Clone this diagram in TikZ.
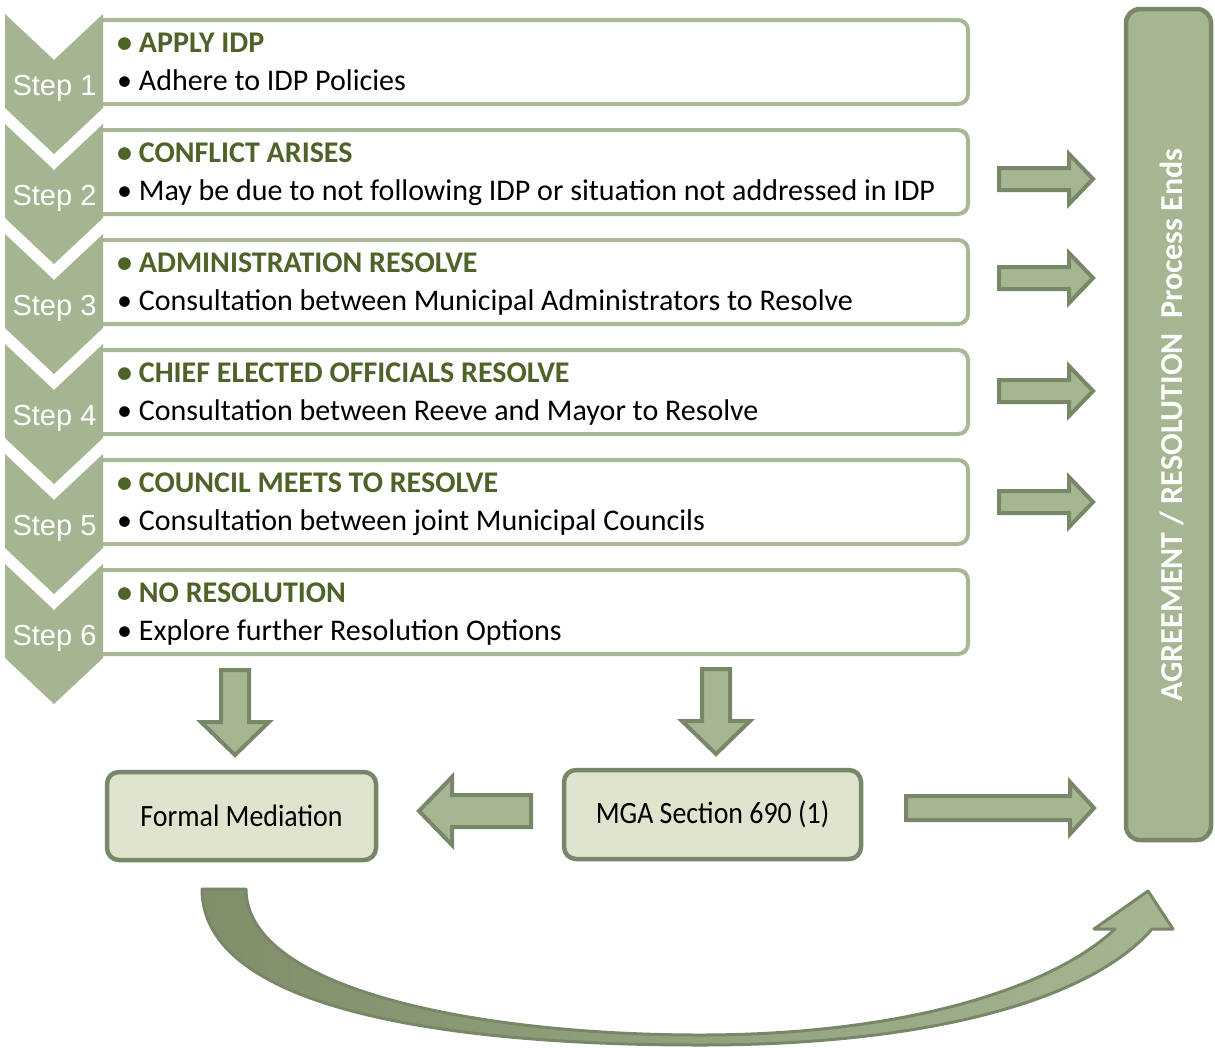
\documentclass[tikz,border=0pt]{standalone}
\usepackage{fontspec}
\setmainfont{Carlito}
\newfontfamily\arialf{Liberation Sans}
\definecolor{chev}{RGB}{165,181,146}
\definecolor{boxline}{RGB}{168,184,148}
\definecolor{arrowfill}{RGB}{166,181,146}
\definecolor{arrowdraw}{RGB}{120,135,104}
\definecolor{boldtxt}{RGB}{79,98,40}
\definecolor{lightfill}{RGB}{222,228,206}
\definecolor{curvedark}{RGB}{128,143,106}
\newcommand\fs[1]{\fontsize{#1}{#1}\selectfont}
\newcommand\harrow[6]{% x1, xhead, xtip, yc, shaft half, head half
  \draw[blk] (#1,{#4-#5}) -- (#2,{#4-#5}) -- (#2,{#4-#6}) -- (#3,#4) -- (#2,{#4+#6}) -- (#2,{#4+#5}) -- (#1,{#4+#5}) -- cycle;}
\newcommand\varrow[6]{% xc, y1, yhead, ytip, shaft half, head half
  \draw[blk] ({#1-#5},#2) -- ({#1-#5},#3) -- ({#1-#6},#3) -- (#1,#4) -- ({#1+#6},#3) -- ({#1+#5},#3) -- ({#1+#5},#2) -- cycle;}
\begin{document}
\begin{tikzpicture}[x=1pt,y=-1pt,
  steplbl/.style={font=\arialf\fs{29}, text=white, anchor=base, inner sep=0},
  hd/.style={font=\bfseries\fs{30}, text=boldtxt, anchor=base west, inner sep=0},
  bd/.style={font=\fs{30}, text=black, anchor=base west, inner sep=0},
  chevron/.style={fill=chev, draw=none},
  stepbox/.style={draw=boxline, line width=4, rounded corners=10},
  blk/.style={fill=arrowfill, draw=arrowdraw, line width=4, line join=miter},
  lbox/.style={draw=arrowdraw, fill=lightfill, line width=4.5, rounded corners=12, inner sep=0, font=\fs{31}}]
\useasboundingbox (0,0) rectangle (1215,1047);
\fill[white] (0,0) rectangle (1215,1047);

% step rows
\foreach \i/\a/\b in {1/APPLY IDP/Adhere to IDP Policies,
  2/CONFLICT ARISES/May be due to not following IDP or situation not addressed in IDP,
  3/ADMINISTRATION RESOLVE/Consultation between Municipal Administrators to Resolve,
  4/CHIEF ELECTED OFFICIALS RESOLVE/Consultation between Reeve and Mayor to Resolve,
  5/COUNCIL MEETS TO RESOLVE/Consultation between joint Municipal Councils,
  6/NO RESOLUTION/Explore further Resolution Options}{
  \pgfmathsetmacro\t{14+110*(\i-1)}
  \draw[stepbox] (103,{\t+6}) -- (968,{\t+6}) -- (968,{\t+90}) -- (103,{\t+90});
  \fill[chevron] (5,\t) -- (54,{\t+46}) -- (103,\t) -- (103,{\t+94}) -- (54,{\t+140}) -- (5,{\t+94}) -- cycle;
  \node[steplbl] (s\i) at (54.5,{\t+81}) {Step \i};
  \node[hd] (h\i) at (117,{\t+38}) {• \a};
  \node[bd] (b\i) at (117,{\t+76}) {• \b};
}

% right column box
\node[draw=arrowdraw, fill=arrowfill, line width=4.5, rounded corners=14,
  minimum width=85, minimum height=831, inner sep=0] (agr) at (1168.5,424.5) {};
\node[font=\bfseries\fs{32}, text=white, rotate=90, anchor=base, inner sep=0]
  (agrtxt) at (1182,425) {AGREEMENT / RESOLUTION\ \ Process Ends};

% arrows to right box
\harrow{999}{1069}{1093}{179}{11}{25}
\harrow{999}{1069}{1093}{278}{11}{25}
\harrow{999}{1069}{1093}{391}{11}{25}
\harrow{999}{1069}{1093}{502}{11}{25}

% lower boxes
\node[lbox, minimum width=269, minimum height=88] (fm) at (241.5,816) {\scalebox{0.9}[1]{Formal Mediation}};
\node[lbox, minimum width=297, minimum height=89] (mga) at (712.5,814.5) {\scalebox{0.9}[1]{MGA Section 690 (1)}};

% down arrows
\varrow{235}{670}{722}{755}{14}{34}
\varrow{716}{669}{721}{754}{14}{34}

% left arrow MGA -> Formal Mediation
\harrow{531}{452}{419}{811}{16}{34}
% right arrow MGA -> agreement
\harrow{906}{1070}{1094}{808}{12}{26}

% curved arrow
\path[draw=arrowdraw, line width=3, left color=curvedark, right color=arrowfill, line join=round]
  (202,889) .. controls (202,1010) and (450,1045) .. (700,1045)
  .. controls (930,1045) and (1090,1000) .. (1152,929)
  -- (1173,929) -- (1148,891) -- (1094,929) -- (1115,929)
  .. controls (1050,990) and (900,1035) .. (700,1035)
  .. controls (480,1035) and (246,990) .. (246,889) -- cycle;
\end{tikzpicture}
\end{document}
